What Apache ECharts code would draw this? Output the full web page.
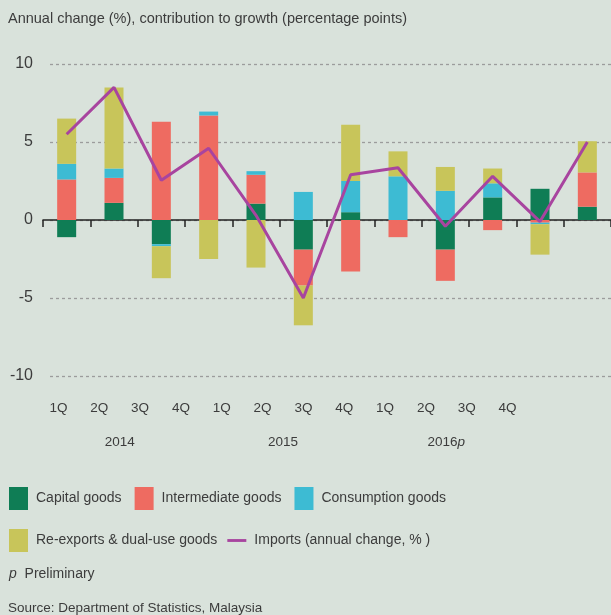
<!DOCTYPE html>
<html>
<head>
<meta charset="utf-8">
<script src="https://cdn.jsdelivr.net/npm/echarts@6/dist/echarts.min.js"></script>
<style>
  html, body { margin: 0; padding: 0; background: #d9e2db; }
  #chart { width: 611px; height: 615px; }
</style>
</head>
<body>
<div id="chart"></div>
<script>
var quarters = ['1Q', '2Q', '3Q', '4Q', '1Q', '2Q', '3Q', '4Q', '1Q', '2Q', '3Q', '4Q'];
var years = ['2014', '2015', '2016p'];
var yTicks = { min: -10, max: 10, interval: 5 };

// contributions, percentage points
var capitalGoods = [-1.1, 1.1, -1.55, 0, 1.05, -1.9, 0.5, 0, -1.9, 1.45, 2.0, 0.85];
var intermediateGoods = [2.6, 1.6, 6.3, 6.7, 1.85, -2.3, -3.3, -1.1, -2.0, -0.65, -0.17, 2.2];
var consumptionGoods = [1.0, 0.6, -0.13, 0.25, 0.23, 1.8, 2.0, 2.8, 1.87, 0.9, -0.1, 0];
var reExports = [2.9, 5.2, -2.05, -2.5, -3.05, -2.55, 3.6, 1.6, 1.53, 0.95, -1.95, 2.0];
// imports, annual change %
var imports = [5.5, 8.5, 2.55, 4.6, 0.3, -5.0, 2.9, 3.35, -0.4, 2.8, -0.1, 5.0];

var FONT = 'Liberation Sans';
var TXT = '#3c3c3c';

var chart = echarts.init(document.getElementById('chart'));

function barSeries(name, data, color) {
    return {
        name: name,
        type: 'bar',
        stack: 'total',
        barWidth: 19,
        itemStyle: { color: color },
        emphasis: { disabled: true },
        data: data
    };
}

chart.setOption({
    backgroundColor: '#d9e2db',
    animation: false,
    textStyle: { fontFamily: FONT },
    title: {
        text: 'Annual change (%), contribution to growth (percentage points)',
        left: 8,
        top: 11,
        padding: 0,
        textStyle: { fontSize: 14.5, fontWeight: 'normal', color: TXT, fontFamily: FONT }
    },
    legend: [
        {
            left: 9,
            top: 487,
            padding: 0,
            icon: 'rect',
            itemWidth: 19,
            itemHeight: 23,
            itemGap: 13,
            selectedMode: false,
            textStyle: { fontSize: 14, color: TXT, fontFamily: FONT, padding: [0, 0, 0, 3] },
            data: ['Capital goods', 'Intermediate goods', 'Consumption goods']
        },
        {
            left: 9,
            top: 529,
            padding: 0,
            itemWidth: 19,
            itemHeight: 23,
            itemGap: 10,
            selectedMode: false,
            textStyle: { fontSize: 14, color: TXT, fontFamily: FONT, padding: [0, 0, 0, 3] },
            data: [
                { name: 'Re-exports & dual-use goods', icon: 'rect' },
                { name: 'Imports (annual change, % )', icon: 'path://M0,0H20V3H0Z' }
            ]
        }
    ],
    grid: [
        // bars and line
        { left: 43, top: 64, width: 570, height: 312 },
        // quarter / year labels
        { left: 38, top: 64, width: 490, height: 312 },
        // dashed gridlines
        { left: 50, top: 64, right: 0, height: 312 }
    ],
    xAxis: [
        {
            type: 'category',
            gridIndex: 0,
            data: quarters,
            axisLine: { lineStyle: { color: '#222', width: 1.5 } },
            axisTick: { show: true, length: 7, interval: 0, lineStyle: { color: '#222', width: 1.5 } },
            axisLabel: { show: false },
            splitLine: { show: false }
        },
        {
            type: 'category',
            gridIndex: 1,
            position: 'bottom',
            data: quarters,
            axisLine: { show: false },
            axisTick: { show: false },
            axisLabel: { interval: 0, margin: 25, fontSize: 13.5, color: TXT, fontFamily: FONT }
        },
        {
            type: 'category',
            gridIndex: 1,
            position: 'bottom',
            data: years,
            axisLine: { show: false },
            axisTick: { show: false },
            axisLabel: {
                interval: 0,
                margin: 59,
                fontSize: 13.5,
                color: TXT,
                fontFamily: FONT,
                formatter: function (v) {
                    return v.replace(/p$/, '{i|p}');
                },
                rich: { i: { fontStyle: 'italic', fontSize: 13.5, color: TXT, fontFamily: FONT } }
            }
        },
        {
            type: 'value',
            gridIndex: 2,
            show: false
        }
    ],
    yAxis: [
        {
            type: 'value',
            gridIndex: 0,
            min: yTicks.min,
            max: yTicks.max,
            interval: yTicks.interval,
            axisLine: { show: false },
            axisTick: { show: false },
            axisLabel: { fontSize: 16, color: TXT, margin: 10, fontFamily: FONT, padding: [7, 0, 0, 0] },
            splitLine: { show: false }
        },
        {
            type: 'value',
            gridIndex: 1,
            min: yTicks.min,
            max: yTicks.max,
            show: false
        },
        {
            type: 'value',
            gridIndex: 2,
            min: yTicks.min,
            max: yTicks.max,
            interval: yTicks.interval,
            axisLine: { show: false },
            axisTick: { show: false },
            axisLabel: { show: false },
            splitLine: { lineStyle: { type: [3, 3], color: '#9c9c9c', width: 1.3 } }
        }
    ],
    series: [
        barSeries('Capital goods', capitalGoods, '#0f7d55'),
        barSeries('Intermediate goods', intermediateGoods, '#ee6b61'),
        barSeries('Consumption goods', consumptionGoods, '#3dbbd3'),
        barSeries('Re-exports & dual-use goods', reExports, '#c8c55a'),
        {
            name: 'Imports (annual change, % )',
            type: 'line',
            color: '#a8449f',
            symbol: 'none',
            lineStyle: { width: 3, color: '#a8449f' },
            emphasis: { disabled: true },
            z: 5,
            data: imports
        }
    ],
    graphic: [
        {
            type: 'text',
            left: 9,
            top: 567,
            style: {
                text: '{i|p}  Preliminary',
                fill: TXT,
                font: '14px "Liberation Sans"',
                rich: { i: { fontStyle: 'italic', fontSize: 14, fill: TXT, fontFamily: FONT } }
            }
        },
        {
            type: 'text',
            left: 8,
            top: 601,
            style: {
                text: 'Source: Department of Statistics, Malaysia',
                fill: TXT,
                font: '13.5px "Liberation Sans"'
            }
        }
    ]
});
</script>
</body>
</html>
